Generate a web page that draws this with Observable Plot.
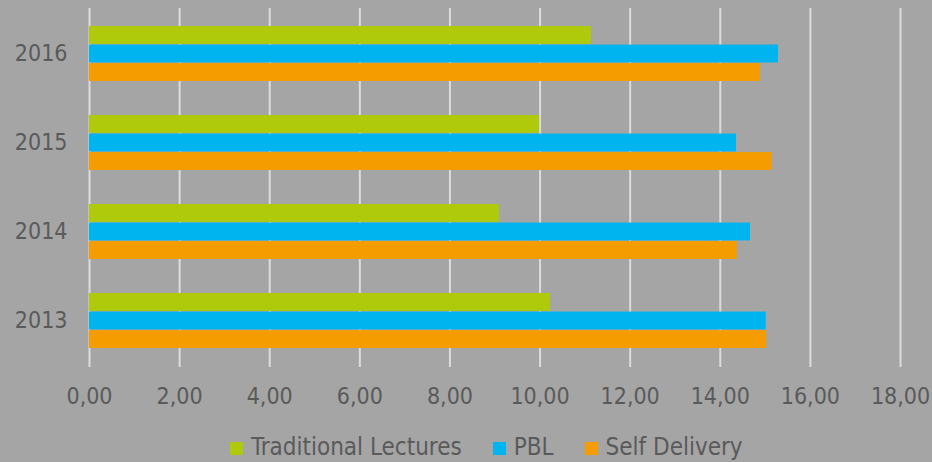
<!DOCTYPE html>
<html>
<head>
<meta charset="utf-8">
<script src="https://cdn.jsdelivr.net/npm/d3@7"></script>
<script src="https://cdn.jsdelivr.net/npm/@observablehq/plot@0.6"></script>
<style>
  html, body { margin: 0; padding: 0; background: #a5a5a5; width: 932px; height: 462px; overflow: hidden; }
  body { font-family: "Liberation Sans Narrow", "DejaVu Sans Condensed", "Liberation Sans", sans-serif; color: #5a5a5a; position: relative; }
  #legend { position: absolute; left: 230px; top: 433px; display: flex; align-items: center; font-size: 24px; color: #5a5a5a; white-space: nowrap; }
  #legend .item { display: flex; align-items: center; margin-right: 31px; }
  #legend .sw { width: 13px; height: 13px; margin-right: 8px; margin-top: 3px; }
</style>
</head>
<body>
<div id="chart"></div>
<div id="legend"></div>
<script>
const years = ["2016", "2015", "2014", "2013"];
const series = ["Traditional Lectures", "PBL", "Self Delivery"];
const colors = ["#afca0b", "#00b5ef", "#f49c00"];
const traditional = [11.14, 9.99, 9.10, 10.23];
const pbl = [15.29, 14.36, 14.67, 15.02];
const selfDelivery = [14.89, 15.15, 14.38, 15.03];
const xTicks = [0, 2, 4, 6, 8, 10, 12, 14, 16, 18];

const valuesBySeries = [traditional, pbl, selfDelivery];
const data = [];
series.forEach((s, i) => years.forEach((y, j) => data.push({year: y, series: s, value: valuesBySeries[i][j]})));

const W = 932, H = 430, mT = 8, mB = 63, mL = 89, mR = 32;
const padInner = 0.38;
const bandwidth = (H - mT - mB) / years.length * (1 - padInner);
const sub = bandwidth / series.length;
const fmt = d => d.toFixed(2).replace(".", ",");

const barMarks = series.map((s, i) => Plot.barX(data.filter(d => d.series === s), {
  x: "value", y: "year", fill: colors[i],
  insetTop: i * sub, insetBottom: (series.length - 1 - i) * sub
}));

const chart = Plot.plot({
  width: W, height: H,
  marginTop: mT, marginBottom: mB, marginLeft: mL, marginRight: mR,
  style: { background: "transparent", color: "#5a5a5a", fontFamily: "'Liberation Sans Narrow', 'DejaVu Sans Condensed', sans-serif", fontSize: "23px", overflow: "visible" },
  x: { domain: [0, 18], label: null },
  y: { domain: years, paddingInner: padInner, paddingOuter: padInner / 2, label: null },
  marks: [
    Plot.gridX(xTicks, { stroke: "#dcdcdc", strokeOpacity: 1, strokeWidth: 2 }),
    ...barMarks,
    Plot.axisX({ ticks: xTicks, tickFormat: fmt, tickSize: 0, tickPadding: 20, fill: "#5a5a5a", fontSize: 23, label: null }),
    Plot.axisY({ tickSize: 0, tickPadding: 22, fill: "#5a5a5a", fontSize: 23, label: null })
  ]
});
document.getElementById("chart").appendChild(chart);

const legend = document.getElementById("legend");
series.forEach((s, i) => {
  const it = document.createElement("div");
  it.className = "item";
  const sw = document.createElement("div");
  sw.className = "sw";
  sw.style.background = colors[i];
  const t = document.createElement("span");
  t.textContent = s;
  it.appendChild(sw); it.appendChild(t);
  legend.appendChild(it);
});
</script>
</body>
</html>
